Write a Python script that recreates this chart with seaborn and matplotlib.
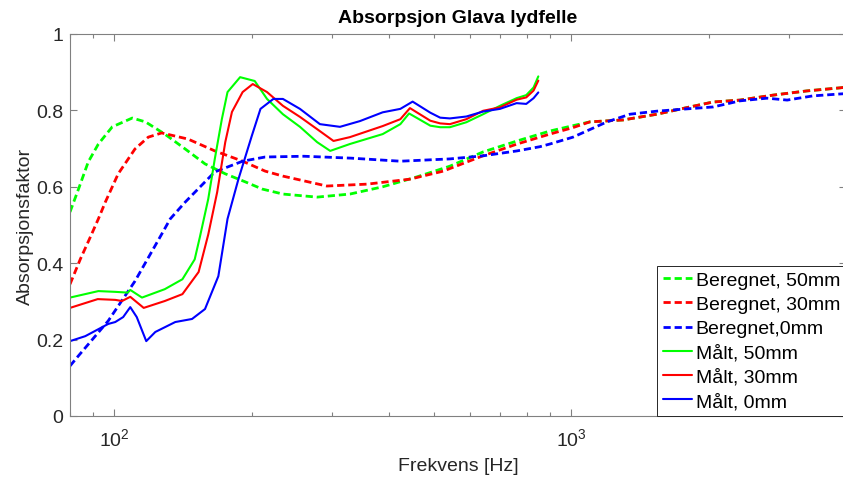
import numpy as np
import pandas as pd
import matplotlib
matplotlib.use("Agg")
import matplotlib.pyplot as plt
import seaborn as sns
from matplotlib.ticker import FixedLocator, FuncFormatter, LogLocator, NullFormatter

# ---------------- data ----------------
f_ber50 = [80, 83.5, 87.7, 92.3, 99, 109.5, 117, 129, 143, 158, 175, 193.5, 211, 234, 278, 328,
           387, 460, 543, 641, 762, 899, 1010, 1100, 1300, 1541, 1820, 2047, 2345, 2770, 3283, 3880, 4000]
v_ber50 = [0.534, 0.594, 0.665, 0.712, 0.757, 0.78, 0.77, 0.738, 0.699, 0.66, 0.634, 0.613, 0.594, 0.581,
           0.573, 0.581, 0.6, 0.626, 0.654, 0.691, 0.72, 0.746, 0.76, 0.77, 0.775, 0.79, 0.809, 0.822,
           0.827, 0.84, 0.851, 0.859, 0.861]

f_ber30 = [80, 84.3, 88.6, 92.3, 95.6, 102, 111, 118.7, 127, 145, 166, 191, 214, 234, 292, 358, 444,
           525, 641, 762, 899, 1010, 1100, 1300, 1541, 1820, 2047, 2345, 2770, 3283, 3880, 4000]
v_ber30 = [0.345, 0.411, 0.468, 0.516, 0.56, 0.634, 0.699, 0.73, 0.741, 0.725, 0.694, 0.667, 0.641,
           0.628, 0.602, 0.607, 0.62, 0.641, 0.681, 0.712, 0.738, 0.755, 0.77, 0.775, 0.79, 0.809,
           0.822, 0.827, 0.84, 0.851, 0.859, 0.861]

f_ber0 = [80, 83, 97, 111, 127, 132.6, 143, 166, 191, 214, 260, 330, 423, 543, 641, 762, 855, 899,
          1010, 1199, 1346, 1541, 1795, 2047, 2345, 2686, 2973, 3385, 3880, 4000]
v_ber0 = [0.131, 0.154, 0.249, 0.353, 0.476, 0.516, 0.56, 0.639, 0.667, 0.678, 0.68, 0.675, 0.667,
          0.673, 0.681, 0.694, 0.705, 0.712, 0.73, 0.77, 0.79, 0.798, 0.804, 0.809, 0.825, 0.832,
          0.827, 0.838, 0.843, 0.844]

f_malt50 = [80, 92.3, 100.5, 107, 108.4, 115, 129, 141, 150, 154, 160.6, 166, 172, 177, 188.6, 203,
            216, 234, 255, 278, 297, 328, 387, 423, 442, 492, 517, 543, 590, 642, 699, 760, 798, 828, 848]
v_malt50 = [0.31, 0.327, 0.325, 0.323, 0.33, 0.31, 0.332, 0.358, 0.41, 0.469, 0.568, 0.673, 0.777,
            0.848, 0.887, 0.877, 0.83, 0.79, 0.757, 0.717, 0.694, 0.712, 0.738, 0.764, 0.792, 0.76,
            0.756, 0.756, 0.769, 0.79, 0.812, 0.832, 0.84, 0.86, 0.889]

f_malt30 = [80, 92, 100.5, 104, 108.4, 116, 129, 141, 153, 160.6, 168, 175, 181, 191, 201, 216, 234,
            255, 278, 302, 328, 387, 423, 444, 492, 517, 543, 590, 642, 699, 760, 798, 828, 848]
v_malt30 = [0.283, 0.306, 0.304, 0.301, 0.312, 0.283, 0.301, 0.319, 0.377, 0.475, 0.586, 0.717,
            0.796, 0.848, 0.869, 0.848, 0.812, 0.783, 0.751, 0.72, 0.73, 0.759, 0.777, 0.806, 0.773,
            0.766, 0.764, 0.777, 0.799, 0.808, 0.828, 0.834, 0.852, 0.878]

f_malt0 = [80, 86.4, 97, 100.5, 104.6, 108.4, 112, 117.5, 123, 136, 148, 158, 169, 177, 187, 200, 209,
           223, 234, 255, 282, 312, 345, 387, 423, 450, 492, 517, 543, 590, 642, 699, 760, 798, 828, 848]
v_malt0 = [0.196, 0.209, 0.241, 0.246, 0.259, 0.285, 0.259, 0.196, 0.22, 0.246, 0.254, 0.28, 0.366,
           0.516, 0.62, 0.733, 0.804, 0.83, 0.83, 0.804, 0.764, 0.757, 0.772, 0.795, 0.804, 0.823,
           0.794, 0.781, 0.779, 0.784, 0.797, 0.804, 0.819, 0.817, 0.832, 0.847]

labels = ["Beregnet, 50mm", "Beregnet, 30mm", "Beregnet,0mm", "Målt, 50mm", "Målt, 30mm", "Målt, 0mm"]
title = "Absorpsjon Glava lydfelle"
xlabel = "Frekvens [Hz]"
ylabel = "Absorpsjonsfaktor"
yticks = [0, 0.2, 0.4, 0.6, 0.8, 1]

# ---------------- style ----------------
sns.set_theme(style="white")
plt.rcParams["font.family"] = ["Liberation Sans", "DejaVu Sans"]
plt.rcParams["mathtext.fontset"] = "custom"
plt.rcParams["mathtext.rm"] = "Liberation Sans"
plt.rcParams["mathtext.it"] = "Liberation Sans:italic"
plt.rcParams["mathtext.bf"] = "Liberation Sans:bold"

TXT = "#262626"
AX = "#808080"

fig = plt.figure(figsize=(8.43, 4.81), dpi=100)
ax = fig.add_axes([70 / 843, (481 - 417) / 481, (846 - 70) / 843, (417 - 35) / 481])

series = [
    (f_ber50, v_ber50, "#00ff00", "dash"),
    (f_ber30, v_ber30, "#ff0000", "dash"),
    (f_ber0, v_ber0, "#0000ff", "dash"),
    (f_malt50, v_malt50, "#00ff00", "solid"),
    (f_malt30, v_malt30, "#ff0000", "solid"),
    (f_malt0, v_malt0, "#0000ff", "solid"),
]

for (f, v, c, st), lab in zip(series, labels):
    df = pd.DataFrame({"f": f, "v": v})
    if st == "dash":
        sns.lineplot(data=df, x="f", y="v", ax=ax, color=c, linewidth=2.0,
                     linestyle=(0, (2.6, 1.4)), label=lab, estimator=None)
    else:
        sns.lineplot(data=df, x="f", y="v", ax=ax, color=c, linewidth=1.5,
                     label=lab, estimator=None)

ax.set_xscale("log")
ax.set_xlim(80, 4000)
ax.set_ylim(0, 1)

ax.yaxis.set_major_locator(FixedLocator(yticks))
ax.yaxis.set_major_formatter(FuncFormatter(lambda y, p: f"{y:g}"))
ax.xaxis.set_major_locator(LogLocator(base=10))
ax.xaxis.set_minor_locator(LogLocator(base=10, subs=np.arange(2, 10)))
ax.xaxis.set_minor_formatter(NullFormatter())

for s in ax.spines.values():
    s.set_color(AX)
    s.set_linewidth(0.8)
    s.set_visible(True)

ax.tick_params(axis="both", which="both", direction="in", top=True, right=True,
               bottom=True, left=True, colors=AX, labelcolor=TXT, labelsize=14)
ax.tick_params(axis="both", which="major", length=5, width=0.8)
ax.tick_params(axis="both", which="minor", length=3, width=0.8)
ax.tick_params(axis="y", pad=5)
ax.tick_params(axis="x", pad=8)

ax.set_title(title, fontsize=14, fontweight="bold", color="black", pad=8.5)
ax.set_xlabel(xlabel, fontsize=14, color=TXT)
ax.set_ylabel(ylabel, fontsize=14, color=TXT)
ax.xaxis.set_label_coords(0.5, -0.107)
ax.yaxis.set_label_coords(-0.047, 0.5)

handles, labs = ax.get_legend_handles_labels()
leg = ax.legend(handles, labs, loc="lower right", bbox_to_anchor=(1, 0), borderaxespad=0,
                frameon=True, fancybox=False, framealpha=1, edgecolor=TXT, fontsize=14,
                handlelength=1.5, handletextpad=0.2, borderpad=0.3, labelspacing=0.34)
leg.get_frame().set_linewidth(0.7)
for t in leg.get_texts():
    t.set_color("black")

ax.grid(False)
fig.savefig("out.png", dpi=100)
